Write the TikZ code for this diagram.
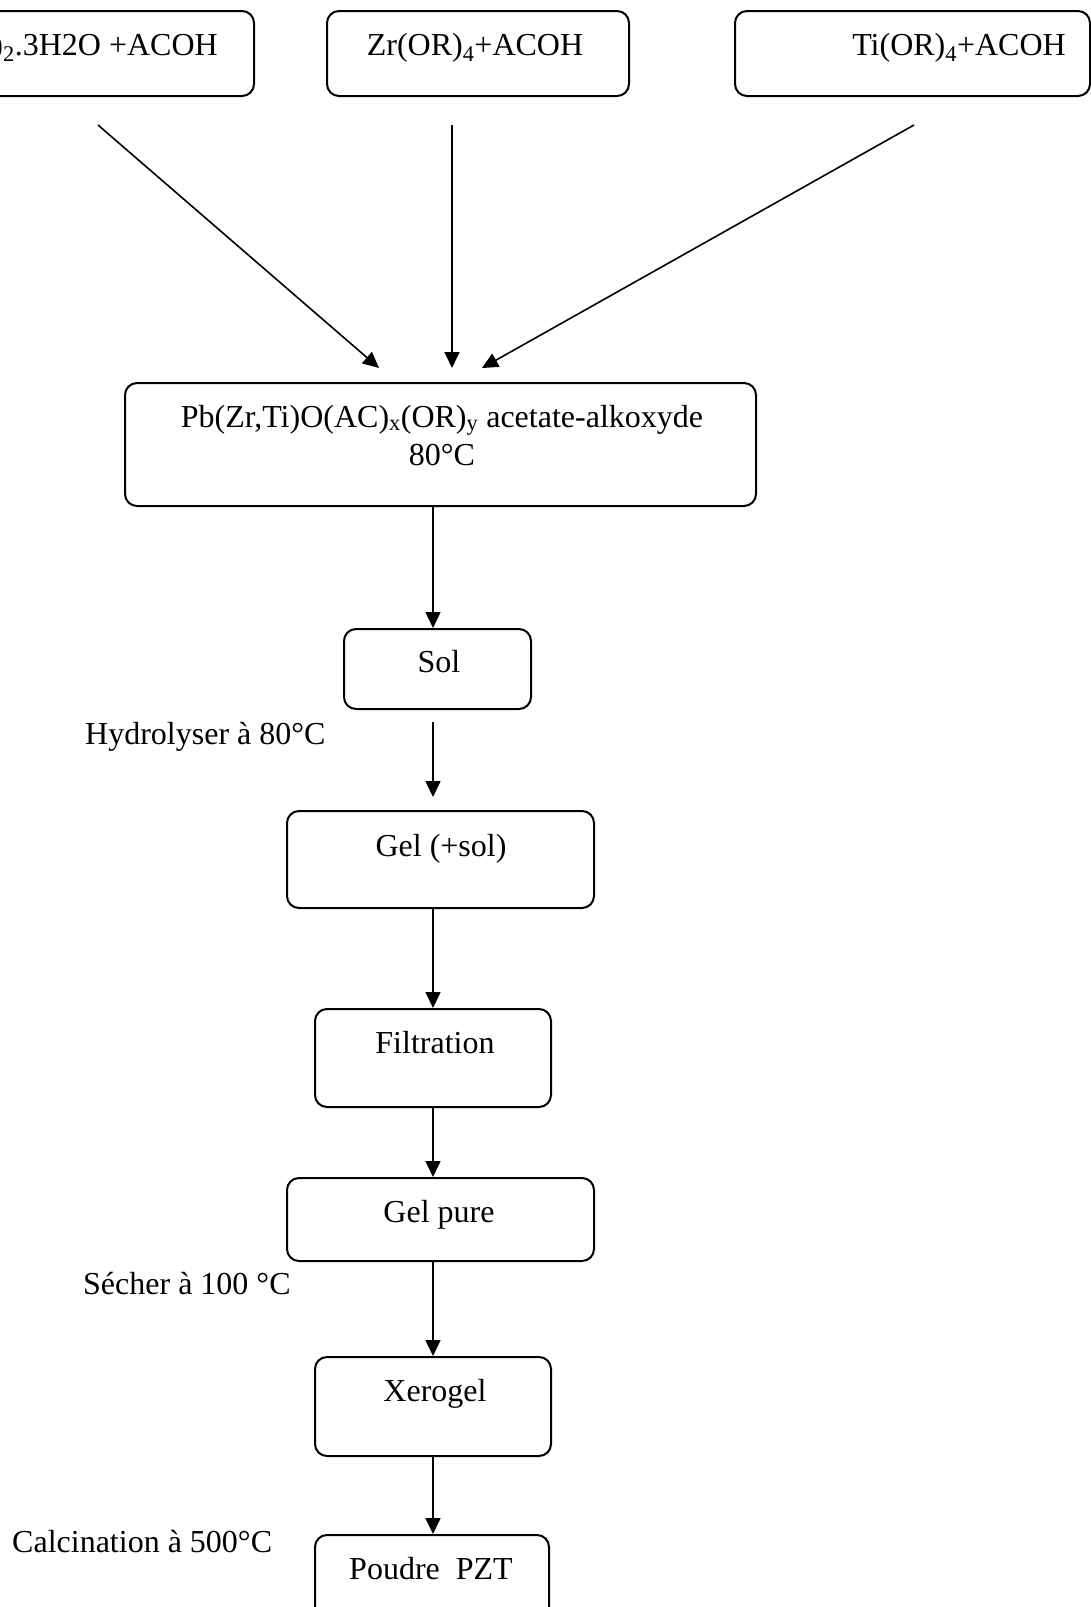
\documentclass[tikz,border=0pt]{standalone}
\usepackage{fontspec}
\setmainfont{Liberation Serif}
\usetikzlibrary{arrows.meta}

\tikzset{
  stagebox/.style={draw, line width=2pt, rounded corners=12pt, inner sep=0pt,
                   anchor=north west},
  lbl/.style={font=\fontsize{32}{38}\selectfont, inner sep=0pt, anchor=base},
  flow/.style={line width=1.6pt, -{Triangle[length=16pt,width=15pt]}},
}

\begin{document}
\begin{tikzpicture}[x=1pt, y=-1pt]
  \clip (0,0) rectangle (1091,1607);
  \fill[white] (0,0) rectangle (1091,1607);

  % precursor boxes
  \node[stagebox, minimum width=273pt, minimum height=85pt] (pb) at (-20,10) {};
  \node[lbl, anchor=base east] (pbtxt) at (218,55)
       {Pb(CH\textsubscript{3}COO)\textsubscript{2}.3H2O +ACOH};
  \node[stagebox, minimum width=302pt, minimum height=85pt] (zr) at (326,10) {};
  \node[lbl] (zrtxt) at (475,55) {Zr(OR)\textsubscript{4}+ACOH};
  \node[stagebox, minimum width=355pt, minimum height=85pt] (ti) at (734,10) {};
  \node[lbl, anchor=base east] (titxt) at (1066,55) {Ti(OR)\textsubscript{4}+ACOH};

  % converging arrows
  \coordinate (a1s) at (98,125);  \coordinate (a1e) at (379,368);
  \coordinate (a2s) at (452,125); \coordinate (a2e) at (452,368);
  \coordinate (a3s) at (914,125); \coordinate (a3e) at (482,368);
  \draw[flow] (a1s) -- (a1e);
  \draw[flow] (a2s) -- (a2e);
  \draw[flow] (a3s) -- (a3e);

  % acetate-alkoxyde stage
  \node[stagebox, minimum width=631pt, minimum height=123pt] (mix) at (124,382) {};
  \node[lbl] (mixtxt) at (442,427)
       {Pb(Zr,Ti)O(AC)\textsubscript{x}(OR)\textsubscript{y} acetate-alkoxyde};
  \node[lbl] (mixtemp) at (442,465) {80°C};

  % process chain
  \node[stagebox, minimum width=187pt, minimum height=80pt] (sol) at (343,628) {};
  \node[lbl] (soltxt) at (439,672) {Sol};

  \node[stagebox, minimum width=307pt, minimum height=97pt] (gel) at (286,810) {};
  \node[lbl] (geltxt) at (441,856) {Gel (+sol)};

  \node[stagebox, minimum width=236pt, minimum height=98pt] (filt) at (314,1008) {};
  \node[lbl] (filttxt) at (435,1053) {Filtration};

  \node[stagebox, minimum width=307pt, minimum height=83pt] (pure) at (286,1177) {};
  \node[lbl] (puretxt) at (439,1222) {Gel pure};

  \node[stagebox, minimum width=236pt, minimum height=99pt] (xero) at (314,1356) {};
  \node[lbl] (xerotxt) at (435,1401) {Xerogel};

  \node[stagebox, minimum width=234pt, minimum height=100pt] (pzt) at (314,1534) {};
  \node[lbl] (pzttxt) at (431,1579) {Poudre\ \ PZT};

  % side notes
  \node[lbl, anchor=base west] (hyd) at (85,744) {Hydrolyser à 80°C};
  \node[lbl, anchor=base west] (sec) at (83,1294) {Sécher à 100 °C};
  \node[lbl, anchor=base west] (cal) at (12,1552) {Calcination à 500°C};

  % vertical flow
  \coordinate (col) at (433,0);
  \coordinate (hs) at (433,722);
  \coordinate (he) at (433,797);
  \draw[flow] (col |- mix.south) -- (col |- sol.north);
  \draw[flow] (hs) -- (he);
  \draw[flow] (col |- gel.south) -- (col |- filt.north);
  \draw[flow] (col |- filt.south) -- (col |- pure.north);
  \draw[flow] (col |- pure.south) -- (col |- xero.north);
  \draw[flow] (col |- xero.south) -- (col |- pzt.north);
\end{tikzpicture}
\end{document}
